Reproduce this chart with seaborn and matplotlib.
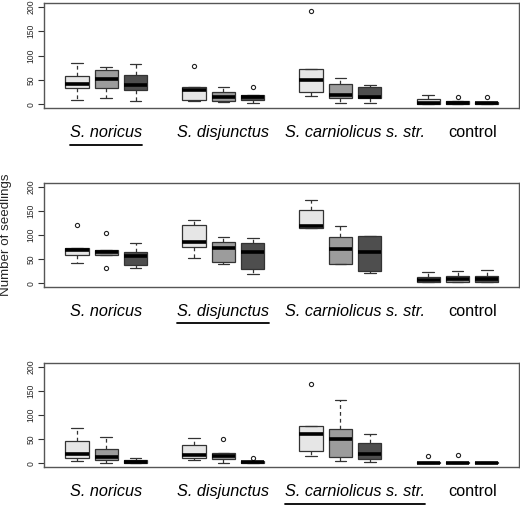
import pandas as pd
import numpy as np
import seaborn as sns
import matplotlib.pyplot as plt
from matplotlib.lines import Line2D

# box positions: 3 treatments per group, gap between groups
positions = [1, 2, 3, 5, 6, 7, 9, 10, 11, 13, 14, 15]
treatments = ['t1', 't2', 't3'] * 4
groups = ['S. noricus', 'S. disjunctus', 'S. carniolicus s. str.', 'control']
group_label_x = [2, 6, 10.5, 14.5]
group_italic = [True, True, True, False]
underlined = [0, 1, 2]   # group underlined in each panel
colors = {'t1': '#e6e6e6', 't2': '#9c9c9c', 't3': '#4e4e4e'}

# seedling counts per box (panel 1)
panel1 = [
    [9, 25, 34, 38, 42, 50, 58, 70, 84],
    [12, 25, 33, 42, 51, 60, 70, 74, 77],
    [7, 20, 29, 34, 39, 50, 59, 70, 83],
    [7, 8, 9, 20, 29, 33, 35, 35, 78],
    [5, 6, 7, 10, 15, 20, 25, 30, 36],
    [3, 6, 9, 12, 14, 17, 19, 19, 36],
    [17, 20, 25, 40, 50, 60, 73, 73, 191],
    [2, 8, 13, 16, 19, 30, 41, 48, 54],
    [2, 8, 12, 13, 14, 25, 36, 38, 40],
    [0, 1, 1, 2, 3, 6, 10, 15, 19],
    [0, 1, 1, 2, 3, 5, 6, 6, 15],
    [0, 1, 1, 2, 3, 4, 5, 5, 15],
]
# panel 2
panel2 = [
    [42, 50, 59, 65, 69, 71, 73, 73, 121],
    [32, 59, 59, 62, 65, 67, 69, 69, 105],
    [32, 35, 38, 50, 57, 60, 64, 75, 84],
    [52, 65, 74, 80, 86, 100, 120, 125, 131],
    [40, 42, 43, 60, 72, 80, 85, 90, 96],
    [20, 25, 30, 50, 64, 75, 83, 90, 94],
    [114, 114, 114, 116, 119, 135, 151, 160, 172],
    [40, 40, 40, 55, 71, 85, 95, 105, 119],
    [21, 23, 25, 45, 64, 80, 97, 98, 98],
    [3, 3, 3, 5, 7, 10, 12, 18, 23],
    [2, 2, 2, 5, 9, 12, 14, 20, 25],
    [2, 2, 2, 5, 9, 12, 14, 20, 27],
]
# panel 3
panel3 = [
    [5, 8, 10, 15, 20, 35, 46, 60, 73],
    [1, 4, 6, 9, 12, 20, 29, 40, 54],
    [1, 1, 1, 2, 3, 5, 6, 8, 10],
    [7, 8, 10, 14, 18, 30, 38, 45, 52],
    [0, 4, 8, 11, 14, 18, 22, 22, 50],
    [0, 1, 1, 2, 3, 4, 4, 4, 11],
    [15, 20, 25, 45, 61, 70, 78, 78, 164],
    [5, 8, 12, 30, 51, 60, 71, 100, 132],
    [3, 5, 8, 14, 19, 30, 42, 50, 60],
    [0, 0, 0, 1, 1, 2, 2, 2, 15],
    [0, 0, 0, 1, 1, 2, 2, 2, 18],
    [0, 0, 0, 1, 1, 1, 2, 2, 3],
]
panels = [panel1, panel2, panel3]

sns.set_style('ticks')
plt.rcParams['font.family'] = ['Liberation Sans', 'DejaVu Sans']

fig = plt.figure(figsize=(5.2, 5.05), dpi=100)
ax_rects = [
    [0.0846, 0.786, 0.9134, 0.208],
    [0.0846, 0.4317, 0.9134, 0.206],
    [0.0846, 0.0752, 0.9134, 0.206],
]

axes = []
for k, data in enumerate(panels):
    ax = fig.add_axes(ax_rects[k])
    rows = []
    for pos, tr, vals in zip(positions, treatments, data):
        for v in vals:
            rows.append({'pos': pos, 'treat': tr, 'count': v})
    df = pd.DataFrame(rows)

    sns.boxplot(data=df, x='pos', y='count', hue='treat', palette=colors,
                native_scale=True, dodge=False, width=0.8, legend=False,
                linecolor='#333333', linewidth=0.9, ax=ax,
                whiskerprops={'linestyle': (0, (3, 2.5))},
                capprops={'linestyle': '-'},
                medianprops={'color': 'black', 'linewidth': 2.6},
                flierprops={'marker': 'o', 'markersize': 3,
                            'markerfacecolor': 'none',
                            'markeredgecolor': '#222222',
                            'markeredgewidth': 0.8})

    ax.set_xlim(-0.13, 16.1)
    ax.set_ylim(-8, 208)
    ax.set_xticks([])
    ax.set_xlabel('')
    ax.set_ylabel('')
    ax.set_yticks([0, 50, 100, 150, 200])
    ax.tick_params(axis='y', labelsize=6.2, length=4, width=0.8,
                   color='#333333', pad=2)
    for lab in ax.get_yticklabels():
        lab.set_rotation(90)
        lab.set_va('center')
    for sp in ax.spines.values():
        sp.set_visible(True)
        sp.set_color('#555555')
        sp.set_linewidth(1.0)

    trans = ax.get_xaxis_transform()
    texts = []
    for g, c, it in zip(groups, group_label_x, group_italic):
        t = ax.text(c, -0.236, g, transform=trans, ha='center', va='center',
                    fontsize=11.7, style='italic' if it else 'normal',
                    color='black')
        texts.append(t)
    ax._group_texts = texts
    axes.append(ax)

axes[1].text(-0.08, 0.5, 'Number of seedlings', transform=axes[1].transAxes,
             rotation=90, ha='center', va='center', fontsize=9.6)

# underline the matching group in each panel
fig.canvas.draw()
renderer = fig.canvas.get_renderer()
for ax, gi in zip(axes, underlined):
    bb = ax._group_texts[gi].get_window_extent(renderer)
    inv = fig.transFigure.inverted()
    (x0, _), (x1, _) = inv.transform([(bb.x0, 0), (bb.x1, 0)])
    axbb = ax.get_position()
    y = axbb.y0 - 36.5 / 505
    fig.add_artist(Line2D([x0, x1], [y, y], color='black', linewidth=1.3,
                          transform=fig.transFigure))

fig.savefig('out.png', dpi=100)
